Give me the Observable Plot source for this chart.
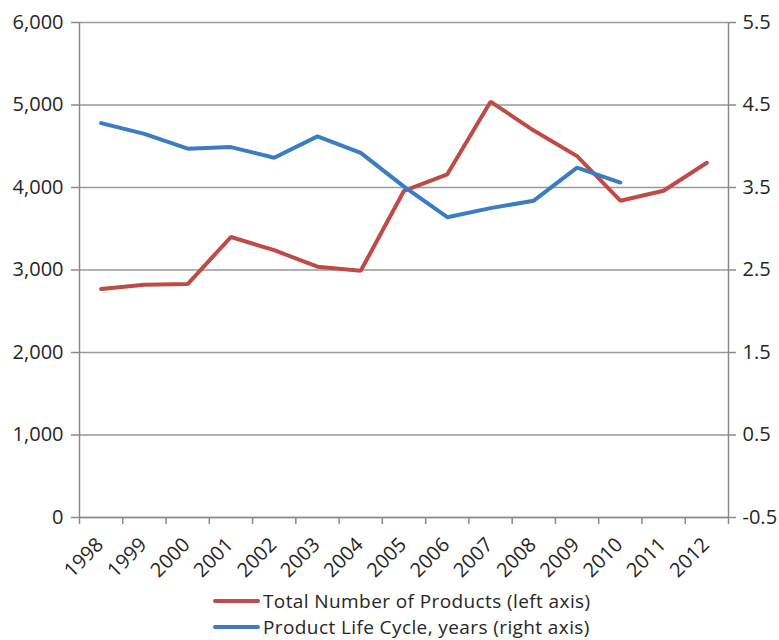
<!DOCTYPE html>
<html>
<head>
<meta charset="utf-8">
<script src="https://cdn.jsdelivr.net/npm/d3@7"></script>
<script src="https://cdn.jsdelivr.net/npm/@observablehq/plot@0.6"></script>
<style>
  html, body { margin: 0; padding: 0; background: #fff; }
  body { width: 779px; height: 640px; overflow: hidden; font-family: "Open Sans", Lato, sans-serif; color: #262626; }
  #chart svg { display: block; }
  .legend { padding-left: 213px; margin-top: 0; font-size: 19px; letter-spacing: 0.4px; line-height: 26px; }
  .legend .row { display: flex; align-items: center; height: 26px; white-space: nowrap; }
  .legend .sw { width: 47px; height: 4px; border-radius: 2px; margin-right: 3px; }
</style>
</head>
<body>
<div id="chart"></div>
<div class="legend" id="legend"></div>
<script>
// Years on the horizontal axis
const years = [1998, 1999, 2000, 2001, 2002, 2003, 2004, 2005, 2006, 2007, 2008, 2009, 2010, 2011, 2012];

// Total number of products (left axis)
const totalProducts = [2770, 2820, 2830, 3400, 3240, 3040, 2990, 3960, 4160, 5040, 4690, 4380, 3840, 3960, 4300];

// Product life cycle in years (right axis), available through 2010
const lifeCycleYears = [1998, 1999, 2000, 2001, 2002, 2003, 2004, 2005, 2006, 2007, 2008, 2009, 2010];
const lifeCycle = [4.28, 4.15, 3.97, 3.99, 3.86, 4.12, 3.92, 3.51, 3.14, 3.25, 3.34, 3.74, 3.56];

// Axis ticks
const leftTicks = [0, 1000, 2000, 3000, 4000, 5000, 6000];
const rightTickLabels = ["-0.5", "0.5", "1.5", "2.5", "3.5", "4.5", "5.5"];

const seriesNames = ["Total Number of Products (left axis)", "Product Life Cycle, years (right axis)"];
const colors = ["#BE4B48", "#3B7CC2"];

// The right axis shares the left scale: 1 year ↔ 1,000 products, offset by 0.5
const rightToLeft = v => (v + 0.5) * 1000;

const redData = years.map((y, i) => ({year: y, value: totalProducts[i]}));
const blueData = lifeCycleYears.map((y, i) => ({year: y, value: rightToLeft(lifeCycle[i])}));
const boundaries = d3.range(years.length + 1).map(i => years[0] - 0.5 + i);

const gray = "#8a8a8a";
const fmt = d3.format(",");
const font = "'Open Sans', Lato, sans-serif";

const chart = Plot.plot({
  width: 779,
  height: 588,
  marginLeft: 79,
  marginRight: 51,
  marginTop: 22,
  marginBottom: 71,
  style: {fontFamily: font, fontSize: "20px", color: "#262626", background: "#fff"},
  x: {type: "linear", domain: [years[0] - 0.5, years[years.length - 1] + 0.5], axis: null},
  y: {domain: [0, 6000], axis: null},
  marks: [
    // horizontal gridlines
    Plot.gridY(leftTicks, {stroke: "#9a9a9a", strokeOpacity: 1, strokeWidth: 1.5}),
    // left axis
    Plot.axisY(leftTicks, {anchor: "left", tickSize: 8, tickPadding: 8, tickFormat: fmt, stroke: gray, strokeWidth: 1.5, fill: "#262626", fontSize: 20, label: null}),
    // right axis
    Plot.axisY(leftTicks, {anchor: "right", tickSize: 7, tickPadding: 7, tickFormat: (d, i) => rightTickLabels[i], stroke: gray, strokeWidth: 1.5, fill: "#262626", fontSize: 20, label: null}),
    // bottom axis: ticks at category boundaries
    Plot.axisX(boundaries, {anchor: "bottom", tickSize: 7, tickFormat: () => "", stroke: gray, strokeWidth: 1.5, label: null}),
    Plot.ruleY([0], {stroke: gray, strokeWidth: 1.5}),
    Plot.ruleX([boundaries[0], boundaries[boundaries.length - 1]], {stroke: gray, strokeWidth: 1.5}),
    // rotated year labels
    Plot.text(years, {x: d => d, y: 0, text: d => String(d), rotate: -45, textAnchor: "end", lineAnchor: "middle", dx: -1, dy: 24, fontSize: 20, fill: "#262626"}),
    // series
    Plot.line(redData, {x: "year", y: "value", stroke: colors[0], strokeWidth: 4, strokeLinecap: "round", strokeLinejoin: "miter"}),
    Plot.line(blueData, {x: "year", y: "value", stroke: colors[1], strokeWidth: 4, strokeLinecap: "round", strokeLinejoin: "miter"})
  ]
});
document.getElementById("chart").appendChild(chart);

const legend = document.getElementById("legend");
seriesNames.forEach((name, i) => {
  const row = document.createElement("div");
  row.className = "row";
  const sw = document.createElement("span");
  sw.className = "sw";
  sw.style.background = colors[i];
  const label = document.createElement("span");
  label.textContent = name;
  row.appendChild(sw);
  row.appendChild(label);
  legend.appendChild(row);
});
</script>
</body>
</html>
